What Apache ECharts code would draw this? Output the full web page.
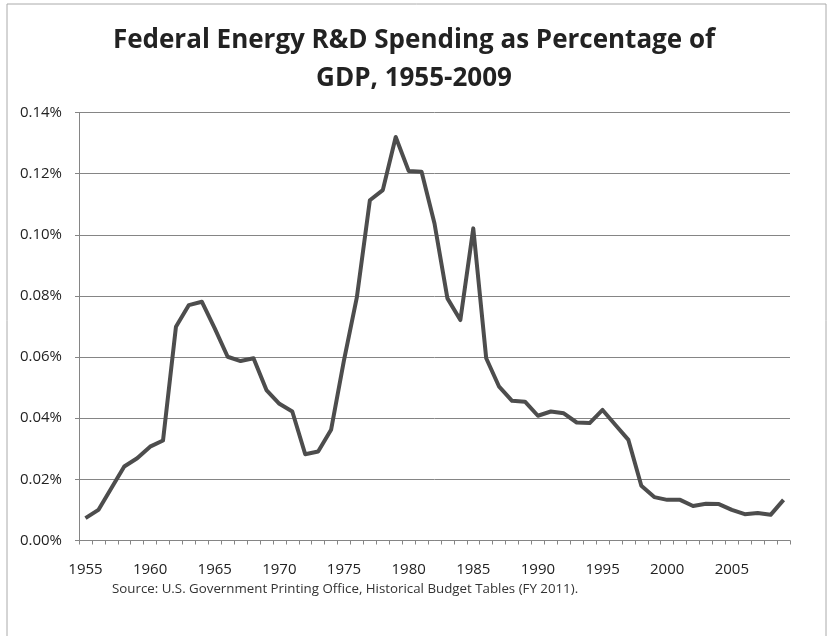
<!DOCTYPE html>
<html>
<head>
<meta charset="utf-8">
<script src="https://cdn.jsdelivr.net/npm/echarts@6/dist/echarts.min.js"></script>
<style>
  html, body { margin: 0; padding: 0; background: #fff; }
  #chart { width: 828px; height: 636px; }
</style>
</head>
<body>
<div id="chart"></div>
<script>
// years 1955..2009
const years = [];
for (let y = 1955; y <= 2009; y++) years.push(String(y));

// energy R&D spending, percent of GDP
const spending = [
  0.0073, 0.0100, 0.0171, 0.0242, 0.0269, 0.0307, 0.0327, 0.0699, 0.0770, 0.0781,
  0.0694, 0.0601, 0.0587, 0.0596, 0.0492, 0.0447, 0.0422, 0.0282, 0.0291, 0.0362,
  0.0590, 0.0797, 0.1113, 0.1146, 0.1320, 0.1209, 0.1206, 0.1037, 0.0792, 0.0721,
  0.1021, 0.0596, 0.0503, 0.0457, 0.0454, 0.0408, 0.0422, 0.0416, 0.0386, 0.0384,
  0.0427, 0.0378, 0.0329, 0.0179, 0.0142, 0.0133, 0.0133, 0.0113, 0.0120, 0.0119,
  0.0100, 0.0086, 0.0090, 0.0084, 0.0133
];

const titleText = 'Federal Energy R&D Spending as Percentage of\nGDP, 1955-2009';
const sourceText = 'Source: U.S. Government Printing Office, Historical Budget Tables (FY 2011).';

let chartDom = document.getElementById('chart');
let myChart = echarts.init(chartDom);
const font = '"Open Sans", "DejaVu Sans", sans-serif';
const gridColor = '#858585';

let option = {
  backgroundColor: '#fff',
  animation: false,
  title: {
    text: titleText,
    left: 'center',
    top: 17,
    textStyle: {
      fontFamily: font,
      fontSize: 26,
      fontWeight: 'bold',
      color: '#222',
      lineHeight: 38
    }
  },
  graphic: [
    {
      type: 'rect',
      shape: { x: 7, y: 4, width: 819, height: 640 },
      style: { fill: 'none', stroke: '#aaa', lineWidth: 1 },
      silent: true
    },
    {
      type: 'text',
      left: 112,
      top: 583,
      style: {
        text: sourceText,
        font: '13.3px ' + font,
        fill: '#333'
      }
    }
  ],
  grid: {
    left: 79,
    right: 38,
    top: 112.5,
    bottom: 95.5,
    containLabel: false
  },
  xAxis: {
    type: 'category',
    data: years,
    boundaryGap: true,
    axisLine: { lineStyle: { color: gridColor, width: 1 } },
    axisTick: { show: true, interval: 0, length: 4, lineStyle: { color: gridColor } },
    axisLabel: {
      interval: 4,
      margin: 22,
      fontFamily: font,
      fontSize: 15,
      color: '#222'
    },
    splitLine: { show: false }
  },
  yAxis: {
    type: 'value',
    min: 0,
    max: 0.14,
    interval: 0.02,
    axisLine: { show: true, lineStyle: { color: gridColor, width: 1 } },
    axisTick: { show: true, length: 4, lineStyle: { color: gridColor } },
    axisLabel: {
      margin: 17,
      fontFamily: font,
      fontSize: 15,
      color: '#222',
      formatter: function (v) { return v.toFixed(2) + '%'; }
    },
    splitLine: { show: true, lineStyle: { color: gridColor, width: 1 } }
  },
  series: [
    {
      type: 'line',
      data: spending,
      showSymbol: false,
      symbol: 'none',
      lineStyle: { color: '#4d4d4d', width: 4, join: 'round' }
    }
  ]
};
myChart.setOption(option);

window.addEventListener('resize', function () {
  myChart.resize();
});
</script>
</body>
</html>
